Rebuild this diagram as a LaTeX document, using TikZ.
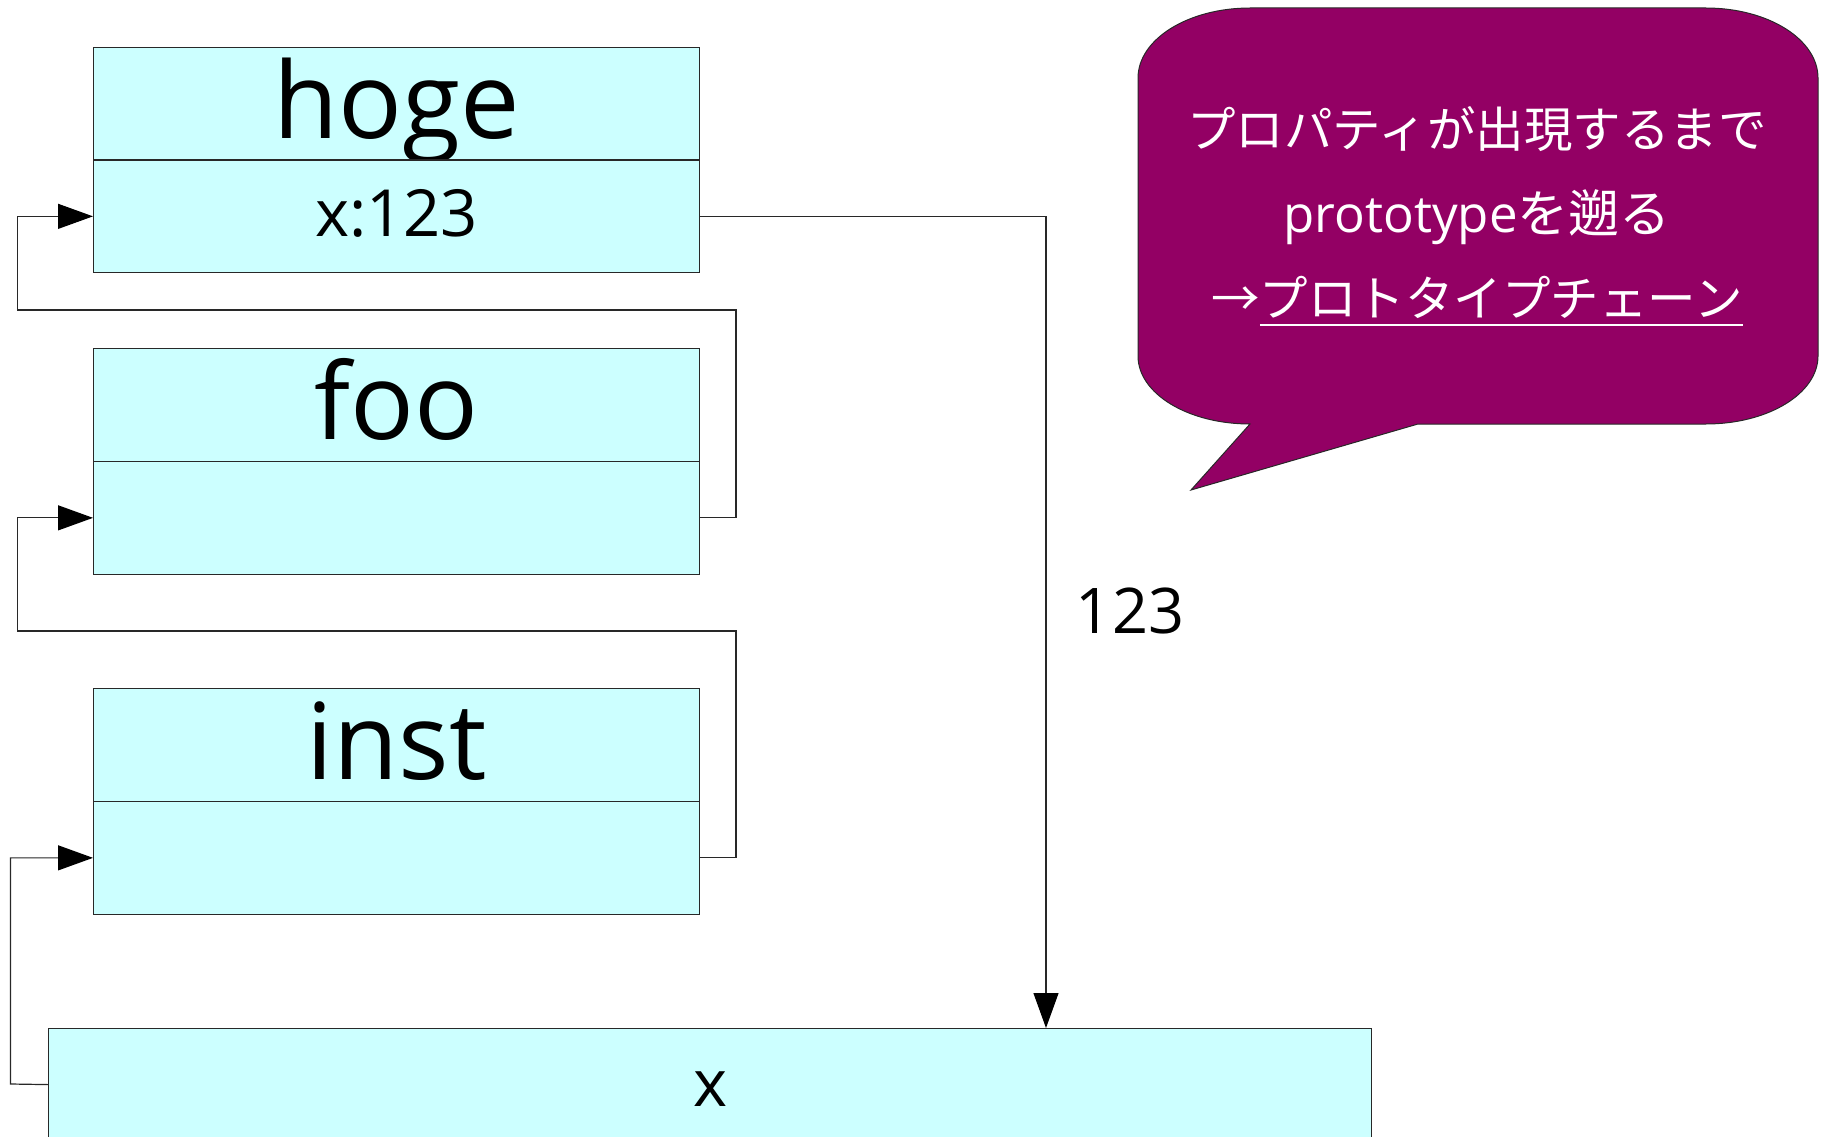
\documentclass[tikz,border=0pt]{standalone}
\usepackage{fontspec}
\setmainfont{Open Sans}
\newfontfamily\cjk{Noto Sans CJK JP}
\usetikzlibrary{arrows.meta}
\definecolor{boxfill}{RGB}{204,255,255}
\definecolor{bubblecol}{RGB}{147,0,100}
\definecolor{edgecol}{RGB}{40,40,40}
\newcommand\myul[1]{\setbox0\hbox{#1}\rlap{\rule[-10pt]{\wd0}{2.5pt}}\box0}
\begin{document}
\begin{tikzpicture}[x=1pt,y=-1pt,
  cell/.style={draw=edgecol, line width=1.2pt, fill=boxfill, minimum width=606pt,
    inner sep=0pt, anchor=north west},
  titlecell/.style={cell, text height=90.5pt, text depth=22pt, font=\fontsize{106}{120}\selectfont},
  slotcell/.style={cell, text height=76pt, text depth=36.5pt, font=\fontsize{65}{78}\selectfont},
  conn/.style={draw=edgecol, line width=1.2pt},
  arr/.style={conn, -{Triangle[length=35pt,width=25pt,color=black,fill=black]}},
  btxt/.style={text=white, inner sep=0pt, anchor=base, font=\fontsize{48.5}{58}\selectfont},
]
\useasboundingbox (0,0) rectangle (1826,1137);

% object boxes
\node[titlecell] (hogeT) at (93,47) {hoge};
\node[slotcell]  (hogeS) at (93,159.5) {x:123};
\node[titlecell] (fooT)  at (93,348) {foo};
\node[slotcell]  (fooS)  at (93,461) {};
\node[titlecell] (instT) at (93,688) {inst};
\node[slotcell]  (instS) at (93,801) {};
\node[cell, minimum width=1323pt, text height=78pt, text depth=34pt,
      font=\fontsize{65}{78}\selectfont] (xbox) at (48,1028) {x};

% label
\node[anchor=base, inner sep=0pt, font=\fontsize{63}{75}\selectfont] (lbl123) at (1130,633) {123};

% connector coordinates
\coordinate (r1) at (736,310);
\coordinate (l1) at (17.5,310);
\coordinate (r2) at (736,631);
\coordinate (l2) at (17.5,631);
\coordinate (l3) at (10.5,1084);
\coordinate (xin) at (1046,1028);

% connectors
\draw[arr] (fooS.east) -| (r1) -- (l1) |- (hogeS.west);
\draw[arr] (instS.east) -| (r2) -- (l2) |- (fooS.west);
\draw[arr] (xbox.west) -- (l3) |- (instS.west);
\draw[arr] (hogeS.east) -| (xin);

% speech bubble
\filldraw[fill=bubblecol, draw=edgecol, line width=1pt]
  (1250,8) -- (1706,8) .. controls (1767.9,8) and (1818,39.3) .. (1818,78)
  -- (1818,356) .. controls (1818,393.6) and (1767.9,424) .. (1706,424)
  -- (1418,424) -- (1191,490) -- (1250,424)
  .. controls (1188.1,424) and (1138,393.6) .. (1138,356)
  -- (1138,78) .. controls (1138,39.3) and (1188.1,8) .. (1250,8) -- cycle;

\node[btxt] (b1) at (1477,148) {\cjk プロパティが出現するまで};
\node[btxt] (b2) at (1477,232) {\fontsize{51}{60}\selectfont prototype{\cjk を遡る}};
\node[btxt] (b3) at (1477,316) {\cjk →\myul{プロトタイプチェーン}};
\end{tikzpicture}
\end{document}
